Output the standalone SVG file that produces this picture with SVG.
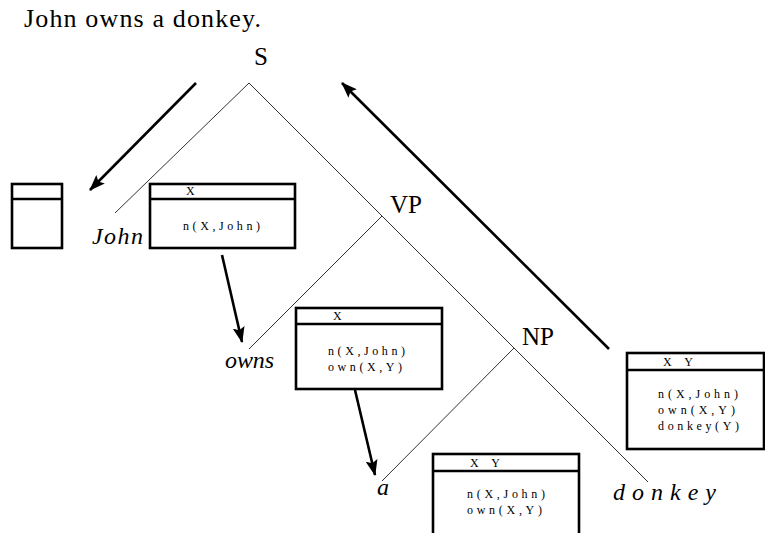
<svg xmlns="http://www.w3.org/2000/svg" width="765" height="533" viewBox="0 0 765 533" font-family="'Liberation Serif', 'DejaVu Serif', serif">
<style>
text{font-family:'Liberation Serif','DejaVu Serif',serif;fill:#000}
.cat{font-size:25px}
.it{font-size:24px;font-style:italic}
.sm{font-size:12px}
.tree{stroke:#333;stroke-width:1;fill:none}
.arr{stroke:#000;stroke-width:2.6;fill:none;marker-end:url(#ah)}
.box rect{fill:#fff;stroke:#000;stroke-width:2.6}
.box line{stroke:#000;stroke-width:2.6}
</style>
<defs>
<marker id="ah" viewBox="0 0 16 12" refX="15" refY="6" markerWidth="16" markerHeight="12" markerUnits="userSpaceOnUse" orient="auto">
<path d="M0,0 L16,6 L0,12 L3,6 z" fill="#000"/>
</marker>
</defs>
<rect width="765" height="533" fill="#fff"/>
<text id="title" x="24" y="27" font-size="26" textLength="237" lengthAdjust="spacing">John owns a donkey.</text>

<g id="connectors">
<polyline class="tree" points="115,213 249,83 382,216"/>
<polyline class="tree" points="249,349 382,216 514,348"/>
<polyline class="tree" points="382,481 514,348 648,482"/>
<line class="arr" x1="196" y1="83" x2="90" y2="190"/>
<line class="arr" x1="222" y1="255" x2="242" y2="342"/>
<line class="arr" x1="355" y1="390" x2="375" y2="475"/>
<line class="arr" x1="609" y1="349" x2="342" y2="83"/>
</g>

<g id="S"><text class="cat" x="254" y="65">S</text></g>
<g id="VP"><text class="cat" x="390" y="213">VP</text></g>
<g id="NP"><text class="cat" x="522" y="345">NP</text></g>
<g id="John"><text class="it" x="92" y="244" textLength="51" lengthAdjust="spacing">John</text></g>
<g id="owns"><text class="it" x="225" y="368" textLength="49" lengthAdjust="spacing">owns</text></g>
<g id="a"><text class="it" x="377" y="495">a</text></g>
<g id="donkey"><text class="it" x="613" y="500" textLength="103" lengthAdjust="spacing">donkey</text></g>

<g id="box0" class="box">
<rect x="12" y="184" width="50" height="64"/>
<line x1="12" y1="199" x2="62" y2="199"/>
</g>

<g id="box1" class="box">
<rect x="150" y="184" width="145" height="64"/>
<line x1="150" y1="199" x2="295" y2="199"/>
<text class="sm" x="186" y="195">X</text>
<text class="sm" x="183" y="230" textLength="77" lengthAdjust="spacing">n(X,John)</text>
</g>

<g id="box2" class="box">
<rect x="296" y="308" width="146" height="81"/>
<line x1="296" y1="324" x2="442" y2="324"/>
<text class="sm" x="333" y="320">X</text>
<text class="sm" x="328" y="355" textLength="77" lengthAdjust="spacing">n(X,John)</text>
<text class="sm" x="328" y="371" textLength="74" lengthAdjust="spacing">own(X,Y)</text>
</g>

<g id="box3" class="box">
<rect x="433" y="454" width="146" height="100"/>
<line x1="433" y1="471" x2="579" y2="471"/>
<text class="sm" x="470" y="467" textLength="30" lengthAdjust="spacing">X Y</text>
<text class="sm" x="467" y="498" textLength="78" lengthAdjust="spacing">n(X,John)</text>
<text class="sm" x="467" y="514" textLength="75" lengthAdjust="spacing">own(X,Y)</text>
</g>

<g id="box4" class="box">
<rect x="627" y="353" width="137" height="96"/>
<line x1="627" y1="370" x2="764" y2="370"/>
<text class="sm" x="663" y="366" textLength="30" lengthAdjust="spacing">X Y</text>
<text class="sm" x="658" y="398" textLength="80" lengthAdjust="spacing">n(X,John)</text>
<text class="sm" x="658" y="414" textLength="77" lengthAdjust="spacing">own(X,Y)</text>
<text class="sm" x="658" y="430" textLength="81" lengthAdjust="spacing">donkey(Y)</text>
</g>
</svg>
